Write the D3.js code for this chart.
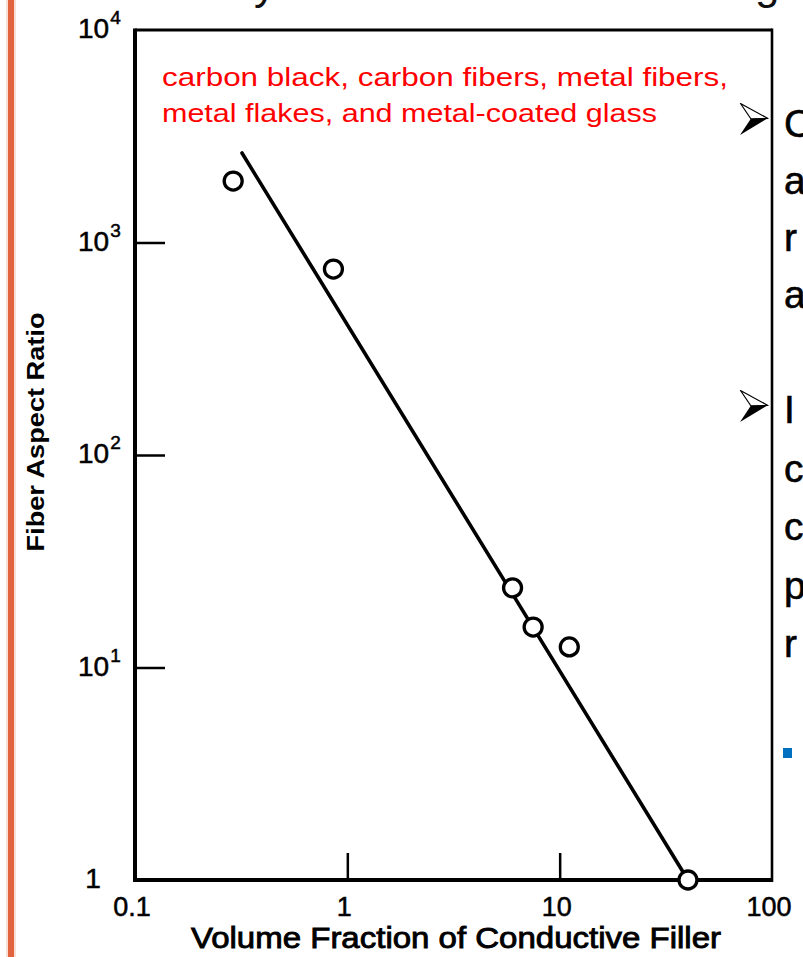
<!DOCTYPE html>
<html>
<head>
<meta charset="utf-8">
<script src="https://cdn.jsdelivr.net/npm/d3@7/dist/d3.min.js"></script>
<style>
  html, body { margin: 0; padding: 0; background: #fff; overflow: hidden; }
  svg { display: block; }
</style>
</head>
<body>
<svg id="chart" width="803" height="957"></svg>
<script>
// Percolation data: filler volume fraction (%) vs. fiber aspect ratio
const volumeFraction = [0.29, 0.86, 6.0, 7.5, 11.1, 40.2];
const aspectRatio    = [1946, 750, 23.7, 15.5, 12.5, 1];

// Fitted trend line end points
const fitX = [0.319, 40.2];
const fitY = [2637, 1];

// Axis ticks and labels
const xTickValues = [0.1, 1, 10, 100];
const xTickLabels = ["0.1", "1", "10", "100"];
const yTickValues = [1, 10, 100, 1000, 10000];
const yTickBase   = ["1", "10", "10", "10", "10"];
const yTickExp    = ["", "1", "2", "3", "4"];

const xTitle = "Volume Fraction of Conductive Filler";
const yTitle = "Fiber Aspect Ratio";
const noteLines = ["carbon black, carbon fibers, metal fibers,",
                   "metal flakes, and metal-coated glass"];

// Slide text running along the right edge
const bulletLines1 = ["C", "a", "r", "a"];
const bulletLines2 = ["I", "c", "c", "p", "r"];
const headingGlyphs = [{t: "y", x: 254}, {t: "g", x: 755}];

const svg = d3.select("#chart");
const L = 135, R = 772, T = 30, B = 880;

const x = d3.scaleLog().domain([0.1, 100]).range([L, R]);
const y = d3.scaleLog().domain([1, 10000]).range([B, T]);

const chartFont = "'Liberation Sans', Arial, sans-serif";

// Slide accent bar on the left
svg.append("rect").attr("x", 6).attr("y", 0).attr("width", 10).attr("height", 957)
  .attr("fill", "#f3c2b0").attr("opacity", 0.5);
svg.append("rect").attr("x", 8).attr("y", 0).attr("width", 6).attr("height", 957)
  .attr("fill", "#e2643f");

// Clipped heading glyphs at the top
svg.selectAll("text.head").data(headingGlyphs).join("text")
  .attr("class", "head")
  .attr("x", d => d.x).attr("y", -1)
  .attr("font-family", chartFont)
  .attr("font-size", 44).attr("fill", "#111")
  .text(d => d.t);

// Inner tick marks
const yAxis = d3.axisRight(y).tickValues([10, 100, 1000]).tickSize(30).tickFormat("");
svg.append("g").attr("transform", `translate(${L},0)`).call(yAxis)
  .call(g => g.select(".domain").remove())
  .call(g => g.selectAll("line").attr("stroke", "#000").attr("stroke-width", 2.5));

const xAxis = d3.axisTop(x).tickValues([1, 10]).tickSize(27).tickFormat("");
svg.append("g").attr("transform", `translate(0,${B})`).call(xAxis)
  .call(g => g.select(".domain").remove())
  .call(g => g.selectAll("line").attr("stroke", "#000").attr("stroke-width", 2.5));

// Plot frame
svg.append("line").attr("x1", L).attr("x2", R).attr("y1", T).attr("y2", T)
  .attr("stroke", "#000").attr("stroke-width", 3);
svg.append("line").attr("x1", R).attr("x2", R).attr("y1", T - 1.5).attr("y2", B + 2)
  .attr("stroke", "#000").attr("stroke-width", 2.6);
svg.append("line").attr("x1", L).attr("x2", L).attr("y1", T - 1.5).attr("y2", B + 2)
  .attr("stroke", "#000").attr("stroke-width", 4);
svg.append("line").attr("x1", L - 2).attr("x2", R).attr("y1", B).attr("y2", B)
  .attr("stroke", "#000").attr("stroke-width", 4);

// Y tick labels (powers of ten)
const yl = svg.selectAll("text.ylab").data(yTickValues).join("text")
  .attr("class", "ylab")
  .attr("font-family", chartFont).attr("font-size", 28).attr("fill", "#000")
  .attr("stroke", "#000").attr("stroke-width", 0.5)
  .attr("x", (d, i) => i === 0 ? 93 : 78)
  .attr("y", d => y(d) + 8)
  .attr("text-anchor", (d, i) => i === 0 ? "middle" : "start");
yl.append("tspan").text((d, i) => yTickBase[i]);
yl.append("tspan").attr("dy", -14).attr("dx", 1).attr("font-size", 19)
  .text((d, i) => yTickExp[i]);

// X tick labels
svg.selectAll("text.xlab").data(xTickValues).join("text")
  .attr("class", "xlab")
  .attr("x", d => x(d) - 3)
  .attr("y", 916)
  .attr("text-anchor", "middle")
  .attr("font-family", chartFont).attr("font-size", 27).attr("fill", "#000")
  .attr("stroke", "#000").attr("stroke-width", 0.5)
  .text((d, i) => xTickLabels[i]);

// Axis titles
svg.append("text").attr("x", 456).attr("y", 948).attr("text-anchor", "middle")
  .attr("font-family", chartFont).attr("font-size", 30)
  .attr("stroke", "#000").attr("stroke-width", 0.9)
  .attr("textLength", 530).attr("lengthAdjust", "spacingAndGlyphs")
  .text(xTitle);
svg.append("text").attr("transform", "translate(44,432) rotate(-90)")
  .attr("text-anchor", "middle")
  .attr("font-family", chartFont).attr("font-size", 23).attr("font-weight", "bold")
  .attr("textLength", 239).attr("lengthAdjust", "spacingAndGlyphs")
  .text(yTitle);

// Trend line
const line = d3.line().x(d => x(d[0])).y(d => y(d[1]));
svg.append("path").datum(fitX.map((v, i) => [v, fitY[i]]))
  .attr("d", line).attr("fill", "none").attr("stroke", "#000")
  .attr("stroke-width", 3.6).attr("stroke-linecap", "round");

// Data markers
svg.selectAll("circle.pt").data(volumeFraction).join("circle")
  .attr("class", "pt")
  .attr("cx", d => x(d))
  .attr("cy", (d, i) => y(aspectRatio[i]))
  .attr("r", 9)
  .attr("fill", "#fff").attr("stroke", "#000").attr("stroke-width", 3.3);

// Red annotation
svg.selectAll("text.note").data(noteLines).join("text")
  .attr("class", "note")
  .attr("x", 162).attr("y", (d, i) => 86 + i * 36)
  .attr("font-family", chartFont)
  .attr("font-size", 25).attr("fill", "#ff0000")
  .attr("textLength", (d, i) => i === 0 ? 566 : 495)
  .attr("lengthAdjust", "spacingAndGlyphs")
  .text(d => d);

// Arrow bullets
function arrowBullet(cy) {
  const g = svg.append("g").attr("transform", `translate(740,${cy - 16})`);
  g.append("path").attr("d", "M0.5,0.5 L28,15.5 L11,16 Z")
    .attr("fill", "#fff").attr("stroke", "#000").attr("stroke-width", 1.2)
    .attr("stroke-linejoin", "round");
  g.append("path").attr("d", "M0,32 L28,15 L11,15.5 Z").attr("fill", "#000");
}
arrowBullet(119);
arrowBullet(406);

// Bullet text (clipped at the page edge)
svg.selectAll("text.b1").data(bulletLines1).join("text")
  .attr("class", "b1").attr("x", 784).attr("y", (d, i) => 137 + i * 57)
  .attr("font-family", chartFont).attr("font-size", 39).attr("fill", "#000")
  .attr("stroke", "#000").attr("stroke-width", 0.6)
  .text(d => d);
svg.selectAll("text.b2").data(bulletLines2).join("text")
  .attr("class", "b2").attr("x", 784).attr("y", (d, i) => 423 + i * 58.5)
  .attr("font-family", chartFont).attr("font-size", 39).attr("fill", "#000")
  .attr("stroke", "#000").attr("stroke-width", 0.6)
  .text(d => d);

// Sub-bullet marker
svg.append("rect").attr("x", 783).attr("y", 748).attr("width", 9).attr("height", 10)
  .attr("fill", "#0070c0");
</script>
</body>
</html>
